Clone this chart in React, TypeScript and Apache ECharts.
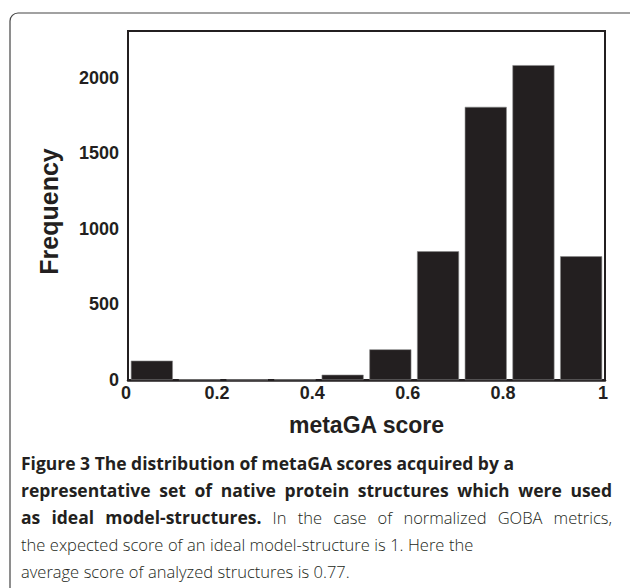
import React, { useEffect, useRef } from "react";
import * as echarts from "echarts";

const binCenters = [0.05, 0.15, 0.25, 0.35, 0.45, 0.55, 0.65, 0.75, 0.85, 0.95];
const frequencies = [128, 4, 3, 4, 35, 203, 852, 1808, 2084, 819];
const xTitle = "metaGA score";
const yTitle = "Frequency";
// each caption line: [bold part, normal part, justified?]
const captionLines: [string, string, boolean][] = [
  ["Figure 3 The distribution of metaGA scores acquired by a", "", false],
  ["representative set of native protein structures which were used", "", true],
  ["as ideal model-structures.", "In the case of normalized GOBA metrics,", true],
  ["", "the expected score of an ideal model-structure is 1. Here the", false],
  ["", "average score of analyzed structures is 0.77.", false],
];

const INK = "#231f20";
const BOLD_FONT = "700 17.5px 'Open Sans'";
const NORMAL_FONT = "300 16.5px 'Open Sans'";

function textWidth(text: string, font: string): number {
  const t = new (echarts.graphic as any).Text({ style: { text, font } });
  return t.getBoundingRect().width;
}

function buildCaption() {
  const lineY = [463, 490, 517, 544, 571];
  const left = 21;
  const right = 612;
  const els: any[] = [];
  captionLines.forEach(([bold, normal, justify], i) => {
    const words: { w: string; font: string }[] = [];
    bold.split(" ").filter(Boolean).forEach((w) => words.push({ w, font: BOLD_FONT }));
    normal.split(" ").filter(Boolean).forEach((w) => words.push({ w, font: NORMAL_FONT }));
    const spaceW = textWidth(" ", NORMAL_FONT);
    const widths = words.map((o) => textWidth(o.w, o.font));
    const total = widths.reduce((a, b) => a + b, 0);
    const gap = justify && words.length > 1 ? (right - left - total) / (words.length - 1) : spaceW * 1.05;
    let x = left;
    words.forEach((o, k) => {
      els.push({
        type: "text",
        x,
        y: lineY[i],
        silent: true,
        style: {
          text: o.w,
          font: o.font,
          fill: INK,
          verticalAlign: "middle",
          align: "left",
        },
      });
      x += widths[k] + gap;
    });
  });
  return els;
}

export default function App() {
  const ref = useRef<HTMLDivElement>(null);
  useEffect(() => {
    if (!ref.current) return;
    const chart = echarts.init(ref.current, null, { renderer: "svg" });
    chart.setOption({
      animation: false,
      backgroundColor: "#ffffff",
      grid: {
        left: 128,
        right: 25,
        top: 31,
        bottom: 208,
        show: true,
        borderColor: INK,
        borderWidth: 2,
        backgroundColor: "transparent",
      },
      xAxis: {
        type: "value",
        min: 0,
        max: 1,
        interval: 0.2,
        name: xTitle,
        nameLocation: "middle",
        nameGap: 33,
        nameTextStyle: {
          fontFamily: "Liberation Sans",
          fontSize: 23,
          fontWeight: "bold",
          color: INK,
        },
        splitLine: { show: false },
        axisTick: { show: false },
        axisLine: { show: true, lineStyle: { color: INK, width: 2.5 } },
        axisLabel: {
          margin: 4,
          formatter: (v: number) => {
            if (Math.abs(v) < 1e-9) return "{i|0}";
            if (Math.abs(v - 1) < 1e-9) return "{i|1}";
            return `{d|${v.toFixed(1)}}`;
          },
          rich: {
            i: { fontFamily: "Liberation Sans", fontSize: 18, fontWeight: "bold", color: INK, padding: [0, 4, 0, 0] },
            d: { fontFamily: "Liberation Sans", fontSize: 18, fontWeight: "bold", color: INK, padding: [0, 13, 0, 0] },
          },
        },
      },
      yAxis: {
        type: "value",
        min: 0,
        max: 2310,
        interval: 500,
        name: yTitle,
        nameLocation: "middle",
        nameGap: 67,
        nameTextStyle: {
          fontFamily: "Liberation Sans",
          fontSize: 25,
          fontWeight: "bold",
          color: INK,
          padding: [0, 12, 0, 0],
        },
        splitLine: { show: false },
        axisTick: { show: false },
        axisLine: { show: true, lineStyle: { color: INK, width: 2 } },
        axisLabel: {
          margin: 9,
          fontFamily: "Liberation Sans",
          fontSize: 18,
          fontWeight: "bold",
          color: INK,
          showMaxLabel: false,
          formatter: (v: number) => String(v),
        },
      },
      series: [
        {
          type: "bar",
          data: binCenters.map((c, i) => [c, frequencies[i]]),
          barWidth: 42,
          itemStyle: { color: INK, borderColor: "#8a8a8a", borderWidth: 0.6 },
        },
      ],
      graphic: [
        {
          type: "rect",
          shape: { x: 10, y: 13, width: 640, height: 600, r: 8 },
          style: { fill: "none", stroke: "#444", lineWidth: 1.2 },
          silent: true,
        },
        ...buildCaption(),
      ],
    });
    return () => chart.dispose();
  }, []);
  return (
    <div
      ref={ref}
      style={{ position: "fixed", left: 0, top: 0, width: 630, height: 588 }}
    />
  );
}
